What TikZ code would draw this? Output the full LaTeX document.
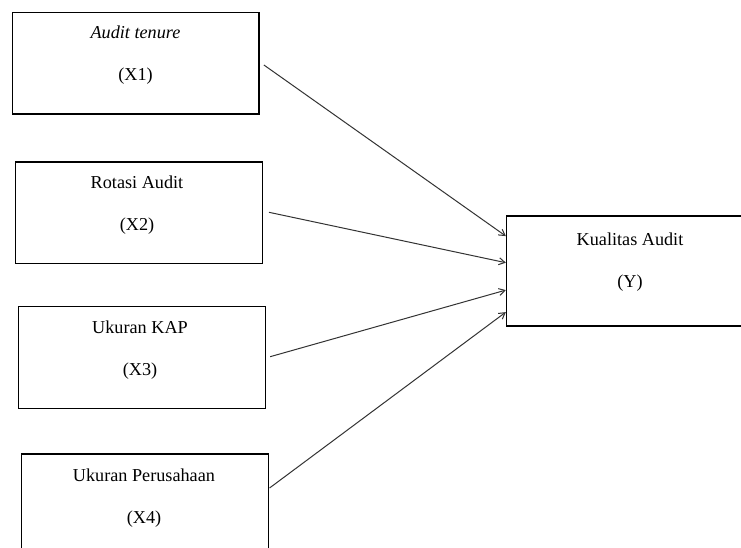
\documentclass[tikz,border=0pt]{standalone}
\usepackage{fontspec}
\setmainfont{Liberation Serif}
\usetikzlibrary{calc,arrows.meta}
\begin{document}
\begin{tikzpicture}[x=1pt,y=-1pt,
  box/.style={draw=black,line width=1.2pt,inner sep=0pt,minimum width=246.5pt,minimum height=101.5pt},
  lbl/.style={font=\fontsize{18.2}{42}\selectfont,align=center,inner sep=0pt},
  link/.style={draw=black!80,line width=1pt,-{Straight Barb[length=6pt,width=7pt]}}]
\useasboundingbox (0,0) rectangle (741,548);
\clip (0,0) rectangle (741,548);
\fill[white] (0,0) rectangle (741,548);
% boxes
\node[box] (x1) at (135.75,63.25) {};
\node[box] (x2) at (138.85,212.8) {};
\node[box] (x3) at (142,357.5) {};
\node[box] (x4) at (145,504.8) {};
\node[box,minimum height=110pt] (y)  at (629.7,271) {};
% labels
\node[lbl] (l1) at (135.5,55) {\textit{Audit tenure}\\(X1)};
\node[lbl] (l2) at (137,205.5) {Rotasi Audit\\(X2)};
\node[lbl] (l3) at (140,350) {Ukuran KAP\\(X3)};
\node[lbl] (l4) at (144,498) {Ukuran Perusahaan\\(X4)};
\node[lbl] (ly) at (630,262.4) {Kualitas Audit\\(Y)};
% connectors
\draw[link] ($(x1.east)+(4.3,1.75)$) -- ($(y.north west)+(0,20.7)$);
\draw[link] ($(x2.east)+(6.3,-0.5)$) -- ($(y.north west)+(0,47.3)$);
\draw[link] ($(x3.east)+(4.3,-0.8)$) -- ($(y.north west)+(0,74.7)$);
\draw[link] ($(x4.east)+(0.7,-16.8)$) -- ($(y.north west)+(0,96.7)$);
\end{tikzpicture}
\end{document}
